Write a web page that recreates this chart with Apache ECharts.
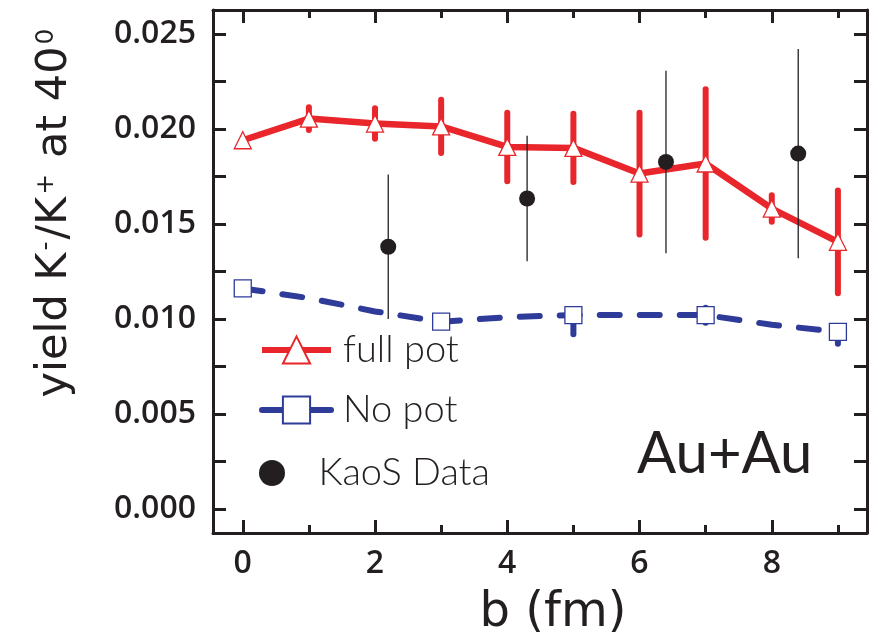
<!DOCTYPE html>
<html>
<head>
<meta charset="utf-8">
<title>K-/K+ yield ratio vs impact parameter</title>
<script src="https://cdn.jsdelivr.net/npm/echarts@6/dist/echarts.min.js"></script>
<style>
  html, body { margin: 0; padding: 0; background: #fff; }
  #chart { width: 878px; height: 641px; }
</style>
</head>
<body>
<div id="chart"></div>
<script>
// Impact parameter b (fm) for the transport calculations
const impactParam = [0, 1, 2, 3, 4, 5, 6, 7, 8, 9];

// "full pot": calculation with kaon potentials, ratio and symmetric error
const fullPot    = [0.0194, 0.02054, 0.02028, 0.02013, 0.01905, 0.01900, 0.01765, 0.01818, 0.01581, 0.01406];
const fullPotErr = [0, 0.0006, 0.0008, 0.0014, 0.0018, 0.0018, 0.0032, 0.0039, 0.0007, 0.0027];

// "No pot": calculation without potentials; markers only on selected b values
const noPot       = [0.01161, 0.0111, 0.0104, 0.00986, 0.0101, 0.01021, 0.01021, 0.01021, 0.0097, 0.00933];
const noPotMarked = [true, false, false, true, false, true, false, true, false, true];
const noPotErrB   = [5, 7, 9];
const noPotErrLow = [0.0092, 0.0098, 0.0087];
const noPotErrHigh = [0.0104, 0.0106, 0.0096];

// KaoS measurement
const kaosB     = [2.2, 4.3, 6.4, 8.4];
const kaosRatio = [0.0138, 0.01634, 0.01826, 0.0187];
const kaosErr   = [0.0038, 0.0033, 0.0048, 0.0055];

// Axis ticks and labels
const xLabelValues = [0, 2, 4, 6, 8];
const xMinorValues = [1, 3, 5, 7, 9];
const yLabelValues = [0, 0.005, 0.010, 0.015, 0.020, 0.025];
const yTickValues  = [0, 0.0025, 0.005, 0.0075, 0.010, 0.0125, 0.015, 0.0175, 0.020, 0.0225, 0.025];

const RED = '#e8262b';
const BLUE = '#2f3b99';
const INK = '#231f20';
const X_RANGE = { min: -0.45, max: 9.44 };
const Y_RANGE = { min: -0.00125, max: 0.02625 };

function errorBars(name, xs, lows, highs, color, width, cap, z) {
  return {
    type: 'custom',
    name: name,
    z: z,
    silent: true,
    xAxisIndex: 0,
    yAxisIndex: 0,
    encode: { x: 0, y: [1, 2] },
    data: xs.map((x, i) => [x, lows[i], highs[i]]),
    renderItem: function (params, api) {
      const a = api.coord([api.value(0), api.value(1)]);
      const b = api.coord([api.value(0), api.value(2)]);
      return {
        type: 'line',
        shape: { x1: a[0], y1: a[1], x2: b[0], y2: b[1] },
        style: { stroke: color, lineWidth: width, lineCap: cap }
      };
    }
  };
}

// Red bars where the error is non-zero
const fpIdx = impactParam.map((_, i) => i).filter(i => fullPotErr[i] > 0);

const frameLine = { show: true, onZero: false, lineStyle: { color: INK, width: 3 } };
const noLine = { show: false, onZero: false };
const tickStyle = { color: INK, width: 3 };
const tickFont = { fontFamily: 'Open Sans', fontWeight: 600, fontSize: 32, color: INK };

function xAxisDef(position, values, len, showLine, labels) {
  return {
    type: 'value', position: position, ...X_RANGE,
    axisLine: showLine ? frameLine : noLine,
    axisTick: { show: true, inside: true, length: len, customValues: values, lineStyle: tickStyle },
    axisLabel: labels ? {
      show: true, customValues: values, margin: 15, ...tickFont,
      formatter: v => String(v)
    } : { show: false },
    splitLine: { show: false }
  };
}

function yAxisDef(position, labels) {
  return {
    type: 'value', position: position, ...Y_RANGE,
    axisLine: frameLine,
    axisTick: { show: true, inside: true, length: 13, customValues: yTickValues, lineStyle: tickStyle },
    axisLabel: labels ? {
      show: true, customValues: yLabelValues, margin: 17, ...tickFont,
      formatter: v => v.toFixed(3)
    } : { show: false },
    splitLine: { show: false }
  };
}

const legendText = {
  fontFamily: 'Lato', fontWeight: 300, fontSize: 38, color: INK,
  padding: [12, 0, 0, 7]
};

const chart = echarts.init(document.getElementById('chart'), null, { renderer: 'canvas' });

chart.setOption({
  animation: false,
  backgroundColor: '#fff',
  grid: { left: 213, right: 11, top: 10, bottom: 108, containLabel: false },
  xAxis: [
    xAxisDef('bottom', xLabelValues, 13, true, true),
    xAxisDef('bottom', xMinorValues, 8, false, false),
    xAxisDef('top', xLabelValues, 13, true, false),
    xAxisDef('top', xMinorValues, 8, false, false)
  ],
  yAxis: [
    yAxisDef('left', true),
    yAxisDef('right', false)
  ],
  legend: [
    {
      left: 254, top: 326, itemWidth: 69, itemHeight: 34,
      selectedMode: false, textStyle: legendText,
      data: [{ name: 'full pot', lineStyle: { width: 6 } }]
    },
    {
      left: 254, top: 386, itemWidth: 69, itemHeight: 34,
      selectedMode: false, textStyle: legendText,
      data: [{ name: 'No pot', lineStyle: { type: 'solid', width: 6 } }]
    },
    {
      left: 254, top: 449, itemWidth: 69, itemHeight: 26,
      selectedMode: false, textStyle: legendText,
      data: [{ name: 'KaoS Data' }]
    }
  ],
  graphic: [
    {
      type: 'text', left: 637, top: 425, silent: true,
      style: { text: 'Au+Au', fontFamily: 'Lato', fontSize: 58, fill: INK }
    },
    {
      type: 'text', silent: true,
      x: 55, y: 212, rotation: Math.PI / 2,
      style: {
        text: 'yield K{sup|-}/K{sup|+} at 40{sup|0}',
        fontFamily: 'DejaVu Sans', fontSize: 43, fill: INK,
        align: 'center', verticalAlign: 'middle',
        rich: {
          sup: { fontFamily: 'DejaVu Sans', fontSize: 25, fill: INK, verticalAlign: 'top', padding: [0, 2, 0, 2] }
        }
      }
    },
    {
      type: 'text', silent: true,
      x: 553, y: 614,
      style: {
        text: 'b (fm)', fontFamily: 'DejaVu Sans', fontSize: 48, fill: INK,
        align: 'center', verticalAlign: 'middle'
      }
    }
  ],
  series: [
    errorBars('full pot err', fpIdx.map(i => impactParam[i]),
      fpIdx.map(i => fullPot[i] - fullPotErr[i]),
      fpIdx.map(i => fullPot[i] + fullPotErr[i]), RED, 6, 'round', 2),
    errorBars('No pot err', noPotErrB, noPotErrLow, noPotErrHigh, BLUE, 6, 'round', 2),
    {
      type: 'line', name: 'full pot', z: 3,
      data: impactParam.map((x, i) => [x, fullPot[i]]),
      symbol: 'triangle', symbolSize: 17,
      itemStyle: { color: '#fff', borderColor: RED, borderWidth: 1.3 },
      lineStyle: { color: RED, width: 6.5 }
    },
    {
      type: 'line', name: 'No pot', z: 3,
      data: impactParam.map((x, i) => ({
        value: [x, noPot[i]],
        symbol: noPotMarked[i] ? 'rect' : 'none'
      })),
      symbol: 'rect', symbolSize: 17, showAllSymbol: true,
      itemStyle: { color: '#fff', borderColor: BLUE, borderWidth: 1.3 },
      lineStyle: { color: BLUE, width: 6, type: [20, 20], cap: 'round' }
    },
    errorBars('KaoS err', kaosB,
      kaosB.map((_, i) => kaosRatio[i] - kaosErr[i]),
      kaosB.map((_, i) => kaosRatio[i] + kaosErr[i]), INK, 1.3, 'butt', 4),
    {
      type: 'scatter', name: 'KaoS Data', z: 5,
      data: kaosB.map((x, i) => [x, kaosRatio[i]]),
      symbol: 'circle', symbolSize: 16,
      itemStyle: { color: INK, opacity: 1 }
    }
  ]
});
</script>
</body>
</html>
